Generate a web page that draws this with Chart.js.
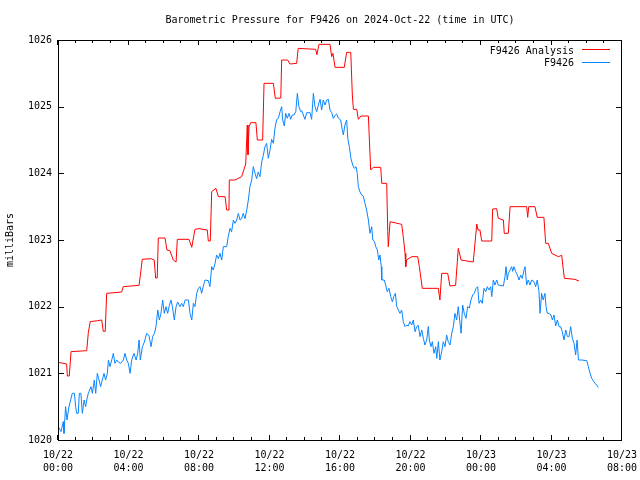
<!doctype html>
<html>
<head>
<meta charset="utf-8">
<title>Barometric Pressure for F9426</title>
<style>
  html, body { margin: 0; padding: 0; background: #fff; }
  canvas { display: block; }
</style>
</head>
<body>
<canvas id="chart" width="640" height="480"></canvas>
<script src="https://cdn.jsdelivr.net/npm/chart.js@4.4.1/dist/chart.umd.min.js"></script>
<script>
// hours since 2024-10-22 00:00 UTC
const titleText = 'Barometric Pressure for F9426 on 2024-Oct-22 (time in UTC)';
const yAxisLabel = 'milliBars';
const seriesNames = ['F9426 Analysis', 'F9426'];
const xTickLabels = [
  ['10/22', '00:00'], ['10/22', '04:00'], ['10/22', '08:00'], ['10/22', '12:00'],
  ['10/22', '16:00'], ['10/22', '20:00'], ['10/23', '00:00'], ['10/23', '04:00'], ['10/23', '08:00']
];
const yTickLabels = ['1020', '1021', '1022', '1023', '1024', '1025', '1026'];

const analysisHours = [
  0.02,0.49,0.53,0.64,0.74,1.63,1.72,1.83,2.25,2.48,
  2.57,2.68,2.76,3.61,3.70,4.60,4.71,4.78,5.28,5.46,
  5.54,5.63,5.69,6.07,6.18,6.35,6.54,6.70,6.77,7.43,
  7.59,7.77,8.00,8.47,8.53,8.64,8.72,8.96,9.10,9.48,
  9.57,9.70,9.72,10.04,10.42,10.65,10.74,10.78,10.84,10.93,
  11.23,11.31,11.61,11.69,12.22,12.33,12.64,12.69,13.03,13.16,
  13.54,13.63,14.62,14.69,14.81,15.43,15.53,15.60,15.72,16.24,
  16.38,16.61,16.70,16.76,16.95,17.04,17.19,17.61,17.74,17.89,
  18.31,18.37,18.65,18.71,18.74,18.84,19.50,19.59,19.69,19.73,
  19.78,20.07,20.41,20.50,20.67,21.58,21.67,21.77,22.11,22.24,
  22.56,22.71,22.87,23.56,23.76,23.83,23.94,24.04,24.61,24.66,
  24.89,24.98,25.27,25.32,25.55,25.65,26.59,26.65,26.71,27.06,
  27.19,27.57,27.67,27.82,28.01,28.39,28.58,28.65,28.73,29.33,
  29.56
];
const analysisMb = [
  1021.165,1021.14,1020.96,1020.96,1021.325,1021.34,1021.61,1021.775,1021.79,1021.8,
  1021.63,1021.63,1022.2,1022.22,1022.3,1022.32,1022.55,1022.71,1022.72,1022.7,
  1022.43,1022.43,1023.03,1023.03,1022.85,1022.84,1022.7,1022.67,1023.01,1023.01,
  1022.89,1023.16,1023.17,1023.15,1022.985,1022.985,1023.725,1023.775,1023.65,1023.65,
  1023.45,1023.45,1023.9,1023.9,1023.95,1024.14,1024.725,1024.28,1024.7,1024.76,
  1024.76,1024.5,1024.5,1025.35,1025.35,1025.125,1025.13,1025.7,1025.7,1025.64,
  1025.65,1025.875,1025.86,1025.78,1025.935,1025.935,1025.75,1025.8,1025.59,1025.59,
  1025.815,1025.815,1025.175,1024.96,1024.96,1024.81,1024.86,1024.86,1024.05,1024.09,
  1024.09,1023.85,1023.85,1023.125,1022.9,1023.275,1023.235,1023.05,1022.8,1022.6,
  1022.7,1022.75,1022.75,1022.6,1022.275,1022.275,1022.1,1022.5,1022.5,1022.31,
  1022.32,1022.875,1022.7,1022.67,1023.24,1023.15,1023.15,1022.985,1022.985,1023.465,
  1023.47,1023.325,1023.3,1023.1,1023.1,1023.5,1023.5,1023.34,1023.5,1023.5,
  1023.34,1023.34,1022.95,1022.95,1022.8,1022.75,1022.77,1022.6,1022.425,1022.41,
  1022.385
];

const obsHours = [
  0.02,0.17,0.30,0.34,0.43,0.51,0.62,0.72,0.81,0.93,
  1.00,1.06,1.15,1.21,1.30,1.38,1.48,1.57,1.63,1.72,
  1.87,1.95,2.06,2.14,2.23,2.33,2.42,2.51,2.61,2.70,
  2.80,2.86,2.95,3.05,3.14,3.23,3.33,3.42,3.56,3.71,
  3.80,3.90,3.99,4.09,4.18,4.31,4.43,4.52,4.60,4.67,
  4.79,4.90,5.03,5.16,5.28,5.37,5.47,5.56,5.66,5.75,
  5.84,5.94,6.03,6.13,6.22,6.32,6.41,6.49,6.60,6.70,
  6.79,6.92,7.02,7.11,7.21,7.40,7.49,7.59,7.68,7.77,
  7.87,7.96,8.06,8.15,8.24,8.34,8.53,8.62,8.72,8.81,
  8.91,9.00,9.10,9.19,9.29,9.38,9.57,9.66,9.76,9.85,
  9.95,10.04,10.14,10.23,10.33,10.42,10.51,10.61,10.71,10.80,
  10.89,10.99,11.08,11.18,11.27,11.36,11.46,11.56,11.65,11.74,
  11.84,11.93,12.03,12.12,12.22,12.31,12.41,12.50,12.60,12.69,
  12.75,12.84,12.92,13.01,13.11,13.20,13.29,13.39,13.49,13.58,
  13.67,13.77,13.83,13.92,14.01,14.11,14.30,14.39,14.49,14.58,
  14.68,14.77,14.87,14.96,15.05,15.15,15.25,15.34,15.43,15.53,
  15.62,15.72,15.81,15.90,16.04,16.13,16.19,16.28,16.38,16.44,
  16.53,16.62,16.72,16.81,16.91,16.98,17.04,17.13,17.23,17.32,
  17.42,17.51,17.61,17.70,17.80,17.86,17.95,18.03,18.12,18.20,
  18.27,18.34,18.37,18.51,18.59,18.68,18.78,18.88,18.97,19.05,
  19.14,19.22,19.31,19.40,19.50,19.59,19.69,19.78,19.87,19.97,
  20.07,20.16,20.26,20.35,20.44,20.54,20.64,20.73,20.82,20.92,
  21.01,21.07,21.16,21.24,21.33,21.43,21.49,21.58,21.67,21.77,
  21.86,21.96,22.05,22.14,22.24,22.34,22.43,22.52,22.62,22.71,
  22.81,22.87,22.96,23.05,23.15,23.24,23.34,23.43,23.53,23.62,
  23.72,23.81,23.89,23.98,24.07,24.17,24.27,24.36,24.45,24.55,
  24.61,24.70,24.79,24.89,24.98,25.27,25.36,25.42,25.49,25.55,
  25.65,25.74,25.80,25.87,25.97,26.06,26.16,26.25,26.34,26.44,
  26.50,26.59,26.68,26.78,26.87,27.01,27.10,27.19,27.29,27.35,
  27.44,27.53,27.63,27.69,27.76,27.86,27.97,28.05,28.14,28.24,
  28.33,28.43,28.52,28.61,28.71,28.81,28.90,28.99,29.09,29.18,
  29.28,29.37,29.45,29.53,29.72,30.00,30.09,30.19,30.28,30.37,
  30.47,30.56,30.66
];
const obsMb = [
  1020.2,1020.125,1020.275,1020.1,1020.5,1020.3,1020.5,1020.6,1020.7,1020.7,
  1020.5,1020.4,1020.4,1020.7,1020.7,1020.4,1020.6,1020.5,1020.6,1020.7,
  1020.8,1020.7,1020.9,1020.7,1021.0,1020.9,1020.8,1020.9,1021.0,1020.9,
  1021.0,1021.2,1021.1,1021.2,1021.3,1021.15,1021.2,1021.17,1021.15,1021.2,
  1021.3,1021.2,1021.15,1021.0,1021.2,1021.3,1021.2,1021.3,1021.5,1021.2,
  1021.4,1021.47,1021.6,1021.57,1021.4,1021.55,1021.6,1021.7,1021.95,1021.8,
  1021.9,1022.1,1021.9,1022.0,1021.9,1022.02,1022.1,1022.0,1021.8,1022.0,
  1022.07,1022.0,1022.05,1022.0,1022.1,1022.1,1021.9,1021.8,1022.05,1022.0,
  1022.2,1022.275,1022.3,1022.2,1022.3,1022.4,1022.39,1022.3,1022.6,1022.55,
  1022.65,1022.775,1022.72,1022.8,1022.7,1022.9,1022.9,1023.05,1023.175,1023.125,
  1023.3,1023.25,1023.3,1023.4,1023.3,1023.32,1023.4,1023.32,1023.45,1023.6,
  1023.8,1023.9,1024.1,1024.0,1023.92,1024.02,1023.95,1024.175,1024.27,1024.4,
  1024.45,1024.225,1024.35,1024.51,1024.45,1024.675,1024.81,1024.825,1024.925,1025.0,
  1024.8,1024.71,1024.9,1024.825,1024.9,1024.81,1024.875,1024.875,1024.925,1025.2,
  1025.0,1024.925,1024.94,1024.875,1024.81,1024.91,1024.91,1024.81,1025.2,1025.0,
  1024.925,1025.025,1025.11,1024.95,1025.1,1025.025,1025.1,1025.11,1024.95,1024.91,
  1024.825,1024.87,1024.89,1024.83,1024.8,1024.65,1024.575,1024.725,1024.8,1024.525,
  1024.4,1024.225,1024.125,1024.075,1024.1,1024.0,1023.8,1023.725,1023.675,1023.66,
  1023.55,1023.45,1023.3,1023.1,1023.2,1023.0,1022.98,1022.9,1022.85,1022.7,
  1022.775,1022.6,1022.4,1022.4,1022.325,1022.225,1022.275,1022.15,1022.075,1022.15,
  1022.2,1022.0,1021.95,1021.9,1021.95,1021.775,1021.7,1021.725,1021.71,1021.775,
  1021.725,1021.8,1021.625,1021.7,1021.72,1021.55,1021.65,1021.525,1021.425,1021.5,
  1021.7,1021.5,1021.4,1021.475,1021.3,1021.4,1021.225,1021.475,1021.2,1021.325,
  1021.475,1021.4,1021.575,1021.475,1021.425,1021.6,1021.7,1021.9,1021.8,1022.0,
  1021.75,1021.6,1022.025,1021.9,1021.825,1022.0,1021.98,1022.1,1022.175,1022.2,
  1022.275,1022.3,1022.05,1022.1,1022.05,1022.275,1022.225,1022.3,1022.25,1022.3,
  1022.15,1022.4,1022.325,1022.4,1022.325,1022.31,1022.45,1022.6,1022.4,1022.5,
  1022.55,1022.6,1022.53,1022.6,1022.525,1022.475,1022.4,1022.475,1022.425,1022.55,
  1022.6,1022.325,1022.4,1022.325,1022.4,1022.375,1022.3,1022.4,1022.225,1021.9,
  1022.2,1022.1,1022.2,1022.0,1021.9,1021.9,1021.875,1021.8,1021.875,1021.71,
  1021.8,1021.7,1021.7,1021.625,1021.5,1021.65,1021.55,1021.55,1021.7,1021.525,
  1021.45,1021.275,1021.5,1021.2,1021.2,1021.19,1021.1,1021.0,1020.925,1020.89,
  1020.85,1020.825,1020.79
];

const monoFont = { family: '"DejaVu Sans Mono", monospace', size: 10 };

// gnuplot look: box frame, inward ticks on all four sides, key at top right
const gnuplotFrame = {
  id: 'gnuplotFrame',
  afterDraw(chart) {
    const { ctx, chartArea: a, scales: { x, y } } = chart;
    ctx.save();
    ctx.strokeStyle = '#000';
    ctx.lineWidth = 1;
    ctx.beginPath();
    for (let h = x.min; h <= x.max; h++) {
      const px = Math.round(x.getPixelForValue(h)) - 0.5;
      const len = h % 4 === 0 ? 5 : 3;
      ctx.moveTo(px, a.bottom); ctx.lineTo(px, a.bottom - len);
      ctx.moveTo(px, a.top); ctx.lineTo(px, a.top + len);
    }
    for (let v = y.min; v <= y.max; v++) {
      const py = Math.round(y.getPixelForValue(v)) + 0.5;
      ctx.moveTo(a.left, py); ctx.lineTo(a.left + 6, py);
      ctx.moveTo(a.right, py); ctx.lineTo(a.right - 6, py);
    }
    ctx.stroke();
    ctx.strokeRect(a.left + 0.5, a.top + 0.5, a.right - a.left - 1, a.bottom - a.top);

    // key
    ctx.font = '10px "DejaVu Sans Mono", monospace';
    ctx.fillStyle = '#000';
    ctx.textAlign = 'right';
    ctx.textBaseline = 'middle';
    chart.data.datasets.forEach((ds, i) => {
      const ty = a.top + 11 + i * 12;
      const ly = a.top + 9.5 + i * 13;
      ctx.fillText(ds.label, a.right - 48, ty);
      ctx.strokeStyle = ds.borderColor;
      ctx.beginPath();
      ctx.moveTo(a.right - 40, ly);
      ctx.lineTo(a.right - 12, ly);
      ctx.stroke();
    });
    ctx.restore();
  }
};

const ctx = document.getElementById('chart').getContext('2d');
new Chart(ctx, {
  type: 'line',
  data: {
    datasets: [
      {
        label: seriesNames[0],
        data: analysisHours.map((h, i) => ({ x: h, y: analysisMb[i] })),
        borderColor: '#ff0000',
        borderWidth: 1,
        pointRadius: 0,
        tension: 0
      },
      {
        label: seriesNames[1],
        data: obsHours.map((h, i) => ({ x: h, y: obsMb[i] })),
        borderColor: '#0a84ff',
        borderWidth: 1,
        pointRadius: 0,
        tension: 0
      }
    ]
  },
  options: {
    responsive: false,
    animation: false,
    devicePixelRatio: 1,
    layout: { padding: { left: 0, right: 18, top: 0, bottom: 0 } },
    plugins: {
      legend: { display: false },
      tooltip: { enabled: false },
      title: {
        display: true,
        text: titleText,
        fullSize: false,
        color: '#000',
        font: { ...monoFont, weight: 'normal', lineHeight: 1.2 },
        padding: { top: 14, bottom: 14 }
      }
    },
    scales: {
      x: {
        type: 'linear',
        min: 0,
        max: 32,
        grid: { display: false, drawTicks: false },
        border: { display: false },
        ticks: {
          stepSize: 4,
          autoSkip: false,
          maxRotation: 0,
          padding: 9,
          color: '#000',
          font: { ...monoFont, lineHeight: 1.3 },
          callback: (v) => xTickLabels[v / 4]
        },
        afterFit: (s) => { s.height = 40; s.paddingLeft = 0; s.paddingRight = 0; }
      },
      y: {
        min: 1020,
        max: 1026,
        grid: { display: false, drawTicks: false },
        border: { display: false },
        ticks: {
          stepSize: 1,
          padding: 6,
          color: '#000',
          font: monoFont,
          callback: (v) => yTickLabels[v - 1020]
        },
        title: {
          display: true,
          text: yAxisLabel,
          color: '#000',
          font: { ...monoFont, lineHeight: 1.2 },
          padding: { top: 4, bottom: 0 }
        },
        afterFit: (s) => { s.width = 58; }
      }
    }
  },
  plugins: [gnuplotFrame]
});
</script>
</body>
</html>
